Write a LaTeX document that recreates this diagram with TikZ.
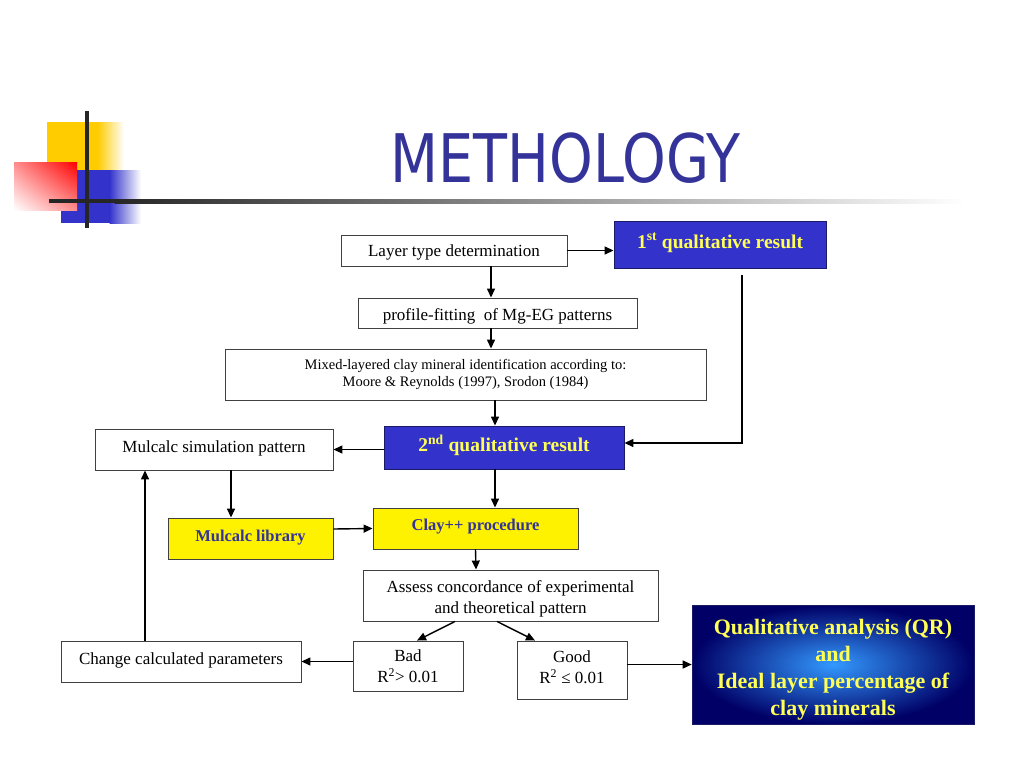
\documentclass[tikz,border=0pt]{standalone}
\usepackage{fontspec}
\setmainfont{Liberation Serif}
\newfontfamily\titlefont{DejaVu Sans}
\usetikzlibrary{arrows.meta,positioning,calc,shadings}
\definecolor{boxblue}{HTML}{3333CC}
\definecolor{boxedge}{HTML}{1A1A66}
\definecolor{txtyellow}{HTML}{FFFF55}
\definecolor{titleblue}{HTML}{333399}
\definecolor{logoyellow}{HTML}{FFCC00}
\definecolor{logoblue}{HTML}{3333CC}
\definecolor{resinner}{HTML}{3399FF}
\definecolor{resouter}{HTML}{000066}
\begin{document}
\begin{tikzpicture}[x=1pt,y=-1pt,
  wbox/.style={draw=black!75,fill=white,line width=0.9pt,inner sep=0pt,align=center,font=\fontsize{17}{21}\selectfont},
  bbox/.style={draw=boxedge,fill=boxblue,line width=0.9pt,inner sep=0pt,align=center,text=txtyellow,font=\bfseries\fontsize{19.5}{22}\selectfont},
  ybox/.style={draw=black!75,fill=yellow,line width=0.9pt,inner sep=0pt,align=center,text=titleblue,font=\bfseries\fontsize{16.5}{20}\selectfont},
  arr/.style={line width=1.4pt,-{Triangle[length=9pt,width=8pt]}}]
\useasboundingbox (0,0) rectangle (1024,768);
\fill[white] (0,0) rectangle (1024,768);
% logo
\fill[logoyellow] (47,122) rectangle (98,170);
\shade[left color=logoyellow,right color=white] (97.5,122) rectangle (124,170);
\fill[logoblue] (61,170) rectangle (110,223);
\shade[left color=logoblue,right color=white] (109.5,170) rectangle (141,223);
\shade[upper right=red,upper left=red!45!white,lower right=red!45!white,lower left=white] (14,162) rectangle (77,210);
\fill[black!85] (85,111) rectangle (89,228);
\fill[black!85] (49,199) rectangle (115,203);
\shade[left color=black!85,right color=white] (114.5,199) rectangle (965,203);
% title
\node[text=titleblue,inner sep=0pt] (title) at (565.5,158) {\scalebox{0.83}[1]{\titlefont\fontsize{67}{70}\selectfont METHOLOGY}};
% boxes
\node[wbox,minimum width=226pt,minimum height=31pt] (layer) at (454,250.5) {\raisebox{-2pt}[\height][\depth]{Layer type determination}};
\node[bbox,minimum width=212pt,minimum height=47pt] (first) at (720,244.5) {\raisebox{2pt}[\height][\depth]{1\textsuperscript{st} qualitative result}};
\node[wbox,minimum width=279pt,minimum height=30pt] (profile) at (497.5,313) {\raisebox{-3pt}[\height][\depth]{profile-fitting\ \ of Mg-EG patterns}};
\node[wbox,minimum width=481pt,minimum height=51pt,font=\fontsize{14.5}{17}\selectfont] (mixed) at (465.5,374.5) {Mixed-layered clay mineral identification according to:\\Moore \& Reynolds (1997), Srodon (1984)};
\node[bbox,minimum width=240pt,minimum height=43pt] (second) at (504,447.5) {\raisebox{2pt}[\height][\depth]{2\textsuperscript{nd} qualitative result}};
\node[wbox,minimum width=238pt,minimum height=41pt] (mulsim) at (214,449.5) {\raisebox{1pt}[\height][\depth]{Mulcalc simulation pattern}};
\node[ybox,minimum width=165pt,minimum height=41pt] (mullib) at (250.5,538.5) {\raisebox{1pt}[\height][\depth]{Mulcalc library}};
\node[ybox,minimum width=205pt,minimum height=41pt,text depth=8pt] (clay) at (475.5,528.5) {Clay++ procedure};
\node[wbox,minimum width=295pt,minimum height=51pt] (assess) at (510.5,595.5) {\raisebox{-3pt}[\height][\depth]{\begin{tabular}{@{}c@{}}Assess concordance of experimental\\and theoretical pattern\end{tabular}}};
\node[wbox,minimum width=240pt,minimum height=41pt] (change) at (181,661.5) {\raisebox{1pt}[\height][\depth]{Change calculated parameters}};
\node[wbox,minimum width=110pt,minimum height=50pt] (bad) at (408,666) {\raisebox{-2pt}[\height][\depth]{\begin{tabular}{@{}c@{}}Bad\\R\textsuperscript{2}> 0.01\end{tabular}}};
\node[wbox,minimum width=110pt,minimum height=58pt] (good) at (572,670) {\raisebox{1pt}[\height][\depth]{\begin{tabular}{@{}c@{}}Good\\R\textsuperscript{2} ≤ 0.01\end{tabular}}};
\node[draw=boxedge,line width=0.6pt,inner color=resinner,outer color=resouter,minimum width=282pt,minimum height=119pt,inner sep=0pt,align=center,text=txtyellow,font=\bfseries\fontsize{22}{27}\selectfont] (result) at (833,664.5) {\raisebox{-5pt}[\height][\depth]{\begin{tabular}{@{}c@{}}Qualitative analysis (QR)\\and\\Ideal layer percentage of\\clay minerals\end{tabular}}};
% connectors
\draw[arr] (layer.east) -- (layer.east -| first.west);
\draw[arr] ([xshift=37pt]layer.south) -- ([xshift=-6.5pt]profile.north);
\draw[arr] ([xshift=-6.5pt]profile.south) -- ([xshift=25.5pt]mixed.north);
\draw[arr] ([xshift=29.5pt]mixed.south) -- ([xshift=-9pt]second.north);
\coordinate (fstart) at ([xshift=22pt,yshift=-7pt]first.south);
\draw[arr] (fstart) |- ([yshift=4.5pt]second.east);
\draw[arr] (second.west |- mulsim.east) -- (mulsim.east);
\draw[arr] ([xshift=17pt]mulsim.south) -- ([xshift=-19.5pt]mullib.north);
\draw[arr] ([xshift=-9pt]second.south) -- ([xshift=19.5pt]clay.north);
\draw[arr] ([yshift=9.5pt]mullib.east) -- (clay.west);
\draw[arr] (clay.south) -- ([xshift=-34.5pt]assess.north);
\draw[arr] ([xshift=-55.5pt]assess.south) -- ([xshift=9pt]bad.north);
\draw[arr] ([xshift=-13.5pt]assess.south) -- ([xshift=-37pt]good.north);
\draw[arr] (bad.west |- change.east) -- (change.east);
\draw[arr] ([xshift=-36pt]change.north) -- ([xshift=-69pt]mulsim.south);
\draw[arr] (good.east |- result.west) -- (result.west);
\end{tikzpicture}
\end{document}
